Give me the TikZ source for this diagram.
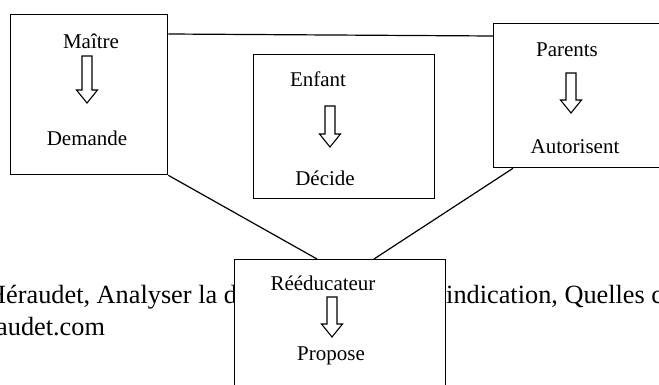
\documentclass[tikz,border=0pt]{standalone}
\usepackage{fontspec}
\setmainfont{Liberation Serif}
\usetikzlibrary{calc}
\tikzset{
  box/.style={draw=black, line width=1.3pt, fill=white, rectangle, inner sep=0pt, anchor=north west},
  lbl/.style={inner sep=0pt, font=\fontsize{21}{25}\selectfont},
  bgtxt/.style={inner sep=0pt, anchor=base west, font=\fontsize{26.3}{30}\selectfont},
  link/.style={draw=black, line width=1.2pt},
  hollow/.style={draw=black, line width=1.1pt, fill=white, line join=miter}
}
\newcommand\downhollow[3]{%
  \draw[hollow] ({#1-5},#2) -- ({#1+5},#2) -- ({#1+5},{#3-13}) -- ({#1+10.5},{#3-13})
    -- (#1,#3) -- ({#1-10.5},{#3-13}) -- ({#1-5},{#3-13}) -- cycle;}
\begin{document}
\begin{tikzpicture}[x=1pt,y=-1pt]
\useasboundingbox (0,0) rectangle (659,385);
\clip (0,0) rectangle (659,385);
\fill[white] (0,0) rectangle (659,385);
% background page text
\node[bgtxt] (bg1) at (-13,303) {Héraudet, Analyser la d};
\node[bgtxt] (bg2) at (446,303) {indication, Quelles c};
\node[bgtxt] (bg3) at (-4,335) {audet.com};
% boxes
\node[box, minimum width=157pt, minimum height=160pt] (maitre) at (10,14) {};
\node[box, minimum width=181pt, minimum height=144pt] (enfant) at (253,54) {};
\node[box, minimum width=190pt, minimum height=144pt] (parents) at (493,23) {};
\node[box, minimum width=211pt, minimum height=150pt] (reed) at (234,259) {};
% connectors
\coordinate (m1) at ($(maitre.north east)+(0,20)$);
\coordinate (p1) at ($(parents.north west)+(0,13)$);
\draw[link] (m1) -- (p1);
\coordinate (r1) at ($(reed.north west)+(83,0)$);
\coordinate (r2) at ($(reed.north west)+(140,0)$);
\coordinate (p2) at ($(parents.south west)+(20,0)$);
\draw[link] (maitre.south east) -- (r1);
\draw[link] (p2) -- (r2);
% texts and arrows
\node[lbl] (t1) at (91,41) {Maître};
\downhollow{87}{56}{103}
\node[lbl] (t2) at (87,138) {Demande};
\node[lbl] (t3) at (318,79) {Enfant};
\downhollow{330}{106}{147}
\node[lbl] (t4) at (325,178) {Décide};
\node[lbl] (t5) at (567,50) {Parents};
\downhollow{571}{73}{113}
\node[lbl] (t6) at (575,147) {Autorisent};
\node[lbl] (t7) at (323,283) {Rééducateur};
\downhollow{332}{297}{337}
\node[lbl] (t8) at (331,356) {Propose};
\end{tikzpicture}
\end{document}
